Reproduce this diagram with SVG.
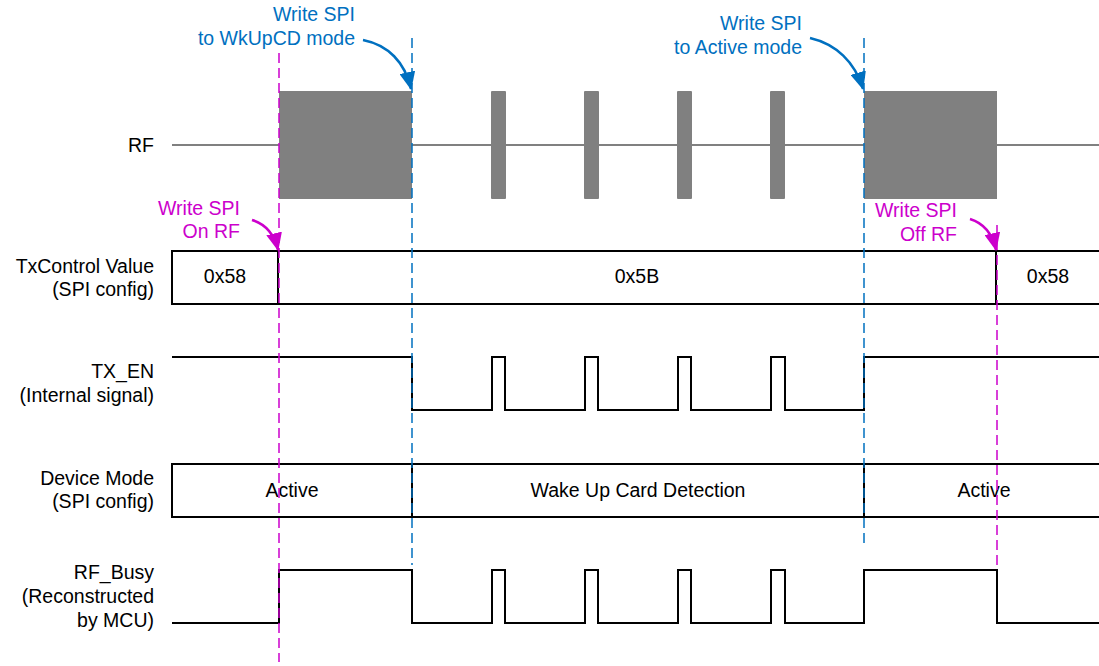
<svg xmlns="http://www.w3.org/2000/svg" width="1099" height="666" viewBox="0 0 1099 666">
<defs>
<style>
text{font-family:"Liberation Sans",Arial,sans-serif;font-size:19.5px}
.lbl{text-anchor:end;fill:#000}
.val{text-anchor:middle;fill:#000}
.blue{fill:#0070C0;text-anchor:end}
.mag{fill:#CC00CC;text-anchor:end}
.sig{fill:none;stroke:#000;stroke-width:2;stroke-linejoin:miter}
.box{fill:#fff;stroke:#000;stroke-width:2}
.rf{fill:#808080}
.rfline{stroke:#808080;stroke-width:2;fill:none}
.dblue{stroke:#0070C0;stroke-width:1.5;stroke-dasharray:10,5;fill:none}
.dmag{stroke:#CC00CC;stroke-width:1.5;stroke-dasharray:10,5;fill:none}
.ablue{stroke:#0070C0;stroke-width:2.5;fill:none;marker-end:url(#hb)}
.amag{stroke:#CC00CC;stroke-width:2.5;fill:none;marker-end:url(#hm)}
</style>
<marker id="hb" markerUnits="userSpaceOnUse" markerWidth="18" markerHeight="16" viewBox="0 0 18 16" refX="17" refY="8" orient="auto"><path d="M0,0 L18,8 L0,16 Z" fill="#0070C0"/></marker>
<marker id="hm" markerUnits="userSpaceOnUse" markerWidth="18" markerHeight="16" viewBox="0 0 18 16" refX="17" refY="8" orient="auto"><path d="M0,0 L18,8 L0,16 Z" fill="#CC00CC"/></marker>
</defs>
<rect width="1099" height="666" fill="#fff"/>

<g id="labels">
<text class="lbl" x="154" y="152">RF</text>
<text class="lbl" x="154" y="273">TxControl Value</text>
<text class="lbl" x="154" y="296">(SPI config)</text>
<text class="lbl" x="154" y="378">TX_EN</text>
<text class="lbl" x="154" y="402">(Internal signal)</text>
<text class="lbl" x="154" y="485">Device Mode</text>
<text class="lbl" x="154" y="508">(SPI config)</text>
<text class="lbl" x="154" y="579">RF_Busy</text>
<text class="lbl" x="154" y="603">(Reconstructed</text>
<text class="lbl" x="154" y="627">by MCU)</text>
</g>

<g id="rf">
<line class="rfline" x1="172" y1="145" x2="1099" y2="145"/>
<rect class="rf" x="279" y="91" width="133" height="108"/>
<rect class="rf" x="491" y="91" width="15" height="108" rx="1"/>
<rect class="rf" x="584" y="91" width="15" height="108" rx="1"/>
<rect class="rf" x="677" y="91" width="15" height="108" rx="1"/>
<rect class="rf" x="770" y="91" width="15" height="108" rx="1"/>
<rect class="rf" x="864" y="91" width="133" height="108"/>
</g>

<g id="txcontrol">
<rect class="box" x="172" y="251" width="106" height="53"/>
<rect class="box" x="278" y="251" width="718" height="53"/>
<rect class="box" x="996" y="251" width="110" height="53"/>
<text class="val" x="225" y="283">0x58</text>
<text class="val" x="637" y="283">0x5B</text>
<text class="val" x="1048" y="283">0x58</text>
</g>

<g id="tx_en">
<path class="sig" d="M172,357 H412 V410 H492 V357 H505 V410 H585 V357 H598 V410 H678 V357 H691 V410 H771 V357 H785 V410 H864 V357 H1099"/>
</g>

<g id="devicemode">
<rect class="box" x="172" y="464" width="240" height="53"/>
<rect class="box" x="412" y="464" width="452" height="53"/>
<rect class="box" x="864" y="464" width="242" height="53"/>
<text class="val" x="292" y="497">Active</text>
<text class="val" x="638" y="497">Wake Up Card Detection</text>
<text class="val" x="984" y="497">Active</text>
</g>

<g id="rf_busy">
<path class="sig" d="M172,623 H279 V570 H412 V623 H492 V570 H505 V623 H585 V570 H598 V623 H678 V570 H691 V623 H771 V570 H785 V623 H864 V570 H997 V623 H1099"/>
</g>

<g id="connectors">
<line class="dmag" x1="279" y1="53" x2="279" y2="662"/>
<line class="dblue" x1="412" y1="38" x2="412" y2="565"/>
<line class="dblue" x1="864" y1="38" x2="864" y2="545"/>
<line class="dmag" x1="997" y1="225" x2="997" y2="570"/>
<path class="ablue" d="M363,40 C388,45 405,62 411,89"/>
<path class="ablue" d="M810,38 C836,44 855,62 863,89"/>
<path class="amag" d="M252,220 C265,224 274,233 278,250"/>
<path class="amag" d="M970,219 C983,223 992,232 996,250"/>
</g>

<g id="annotations">
<text class="blue" x="355" y="21">Write SPI</text>
<text class="blue" x="355" y="45">to WkUpCD mode</text>
<text class="blue" x="802" y="30">Write SPI</text>
<text class="blue" x="802" y="54">to Active mode</text>
<text class="mag" x="240" y="215">Write SPI</text>
<text class="mag" x="240" y="238">On RF</text>
<text class="mag" x="957" y="217">Write SPI</text>
<text class="mag" x="957" y="241">Off RF</text>
</g>
</svg>
